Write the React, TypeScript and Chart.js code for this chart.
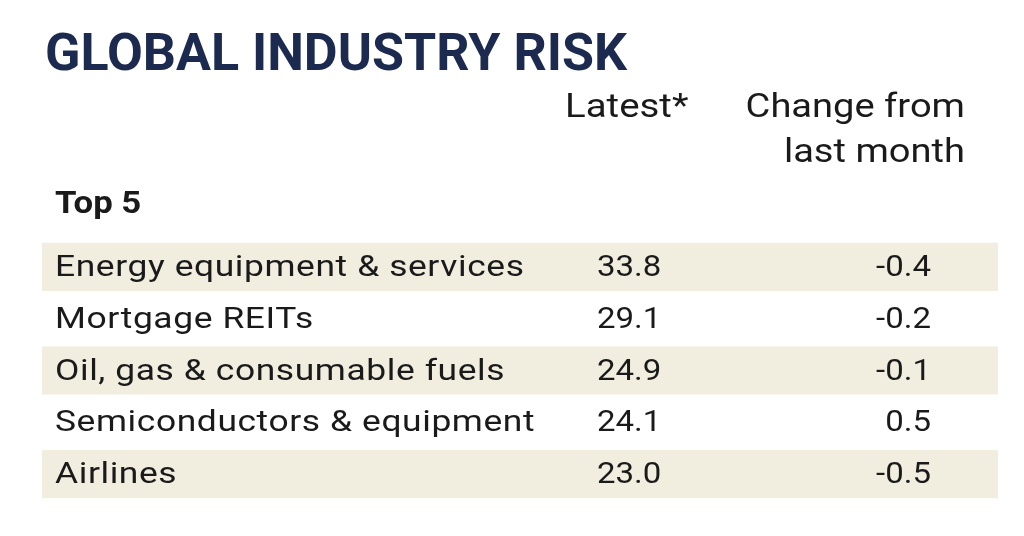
import React, { useEffect, useRef } from "react";
import { Chart, registerables } from "chart.js";

Chart.register(...registerables);

const TITLE = "GLOBAL INDUSTRY RISK";
const HEADER_LATEST = "Latest*";
const HEADER_CHANGE = ["Change from", "last month"];
const SECTION = "Top 5";
const industries = [
  "Energy equipment & services",
  "Mortgage REITs",
  "Oil, gas & consumable fuels",
  "Semiconductors & equipment",
  "Airlines",
];
const latest = [33.8, 29.1, 24.9, 24.1, 23.0];
const change = [-0.4, -0.2, -0.1, 0.5, -0.5];

const NAVY = "#1b2a4e";
const INK = "#1a1a1a";
const BAND = "#f1eee0";

function drawText(
  ctx: CanvasRenderingContext2D,
  text: string,
  x: number,
  y: number,
  font: string,
  color: string,
  align: "left" | "right",
  sx: number,
  ls: number
) {
  ctx.save();
  ctx.font = font;
  (ctx as any).letterSpacing = ls + "px";
  ctx.fillStyle = color;
  ctx.textBaseline = "alphabetic";
  ctx.textAlign = "left";
  const w = ctx.measureText(text).width - ls;
  ctx.translate(x, y);
  ctx.scale(sx, 1);
  const startX = align === "left" ? 0 : -w;
  ctx.fillText(text, startX, 0);
  ctx.restore();
}

const tablePlugin = {
  id: "tableText",
  afterDatasetsDraw(chart: any) {
    const ctx: CanvasRenderingContext2D = chart.ctx;
    const area = chart.chartArea;
    const yScale = chart.scales.y;
    const left = area.left;

    // title
    drawText(ctx, TITLE, left + 3, 70, "bold 52px Roboto", NAVY, "left", 1.0, 0);
    // headers
    drawText(ctx, HEADER_LATEST, 565, 117, "34px Roboto", INK, "left", 1.13, 0);
    drawText(ctx, HEADER_CHANGE[0], 965, 117, "34px Roboto", INK, "right", 1.12, 0);
    drawText(ctx, HEADER_CHANGE[1], 965, 162, "34px Roboto", INK, "right", 1.12, 0);
    // section
    drawText(ctx, SECTION, left + 13, 213, "bold 31px Roboto", INK, "left", 1.12, 0);

    industries.forEach((name, i) => {
      const yc = yScale.getPixelForValue(i);
      const base = yc + 9;
      drawText(ctx, name, left + 13, base, "30px Roboto", INK, "left", 1.18, 0.5);
      drawText(ctx, latest[i].toFixed(1), 597, base, "30px Roboto", INK, "left", 1.1, 0);
      drawText(ctx, change[i].toFixed(1), 931, base, "30px Roboto", INK, "right", 1.1, 0);
    });
  },
};

export default function App() {
  const canvasRef = useRef<HTMLCanvasElement | null>(null);

  useEffect(() => {
    if (!canvasRef.current) return;
    const chart = new Chart(canvasRef.current, {
      type: "bar",
      data: {
        labels: industries,
        datasets: [
          {
            data: industries.map((_, i) => (i % 2 === 0 ? [0, 1] : null)) as any,
            backgroundColor: BAND,
            borderWidth: 0,
            barPercentage: 0.928,
            categoryPercentage: 1,
          },
        ],
      },
      options: {
        indexAxis: "y",
        responsive: true,
        maintainAspectRatio: false,
        animation: false,
        layout: { padding: { left: 42, right: 26, top: 241, bottom: 36 } },
        scales: {
          x: { type: "linear", min: 0, max: 1, display: false },
          y: { type: "category", display: false },
        },
        plugins: {
          legend: { display: false },
          tooltip: { enabled: false },
          title: { display: false },
        },
      },
      plugins: [tablePlugin],
    });
    return () => chart.destroy();
  }, []);

  return (
    <div
      style={{
        position: "fixed",
        left: 0,
        top: 0,
        width: 1024,
        height: 536,
        background: "#ffffff",
      }}
    >
      <canvas ref={canvasRef} />
    </div>
  );
}
